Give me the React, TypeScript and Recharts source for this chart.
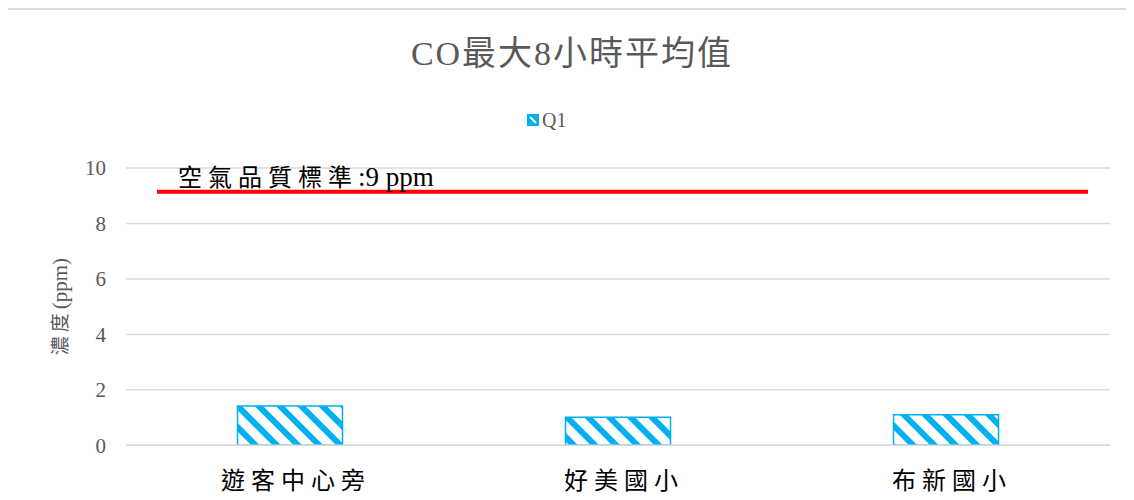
import React from 'react';
import { BarChart, Bar, XAxis, YAxis, CartesianGrid, ReferenceLine } from 'recharts';

const categories = ['遊客中心旁', '好美國小', '布新國小'];
const q1Values = [1.42, 1.01, 1.1];
const yTicks = [0, 2, 4, 6, 8, 10];
const seriesName = 'Q1';
const titleText = 'CO最大8小時平均值';
const yAxisTitleCjk = '濃度';
const yAxisTitleLatin = '(ppm)';
const standardValue = 9.14;
const standardLabelCjk = '空氣品質標準';
const standardLabelLatin = ':9 ppm';

const data = categories.map((name, i) => ({ name, [seriesName]: q1Values[i] }));

const FONT = "'Liberation Serif', 'Noto Sans CJK TC', serif";
const BLUE = '#00B0F0';
const GRAY = '#595959';

const StandardLine = (props: any) => {
  const { x1, y1, x2, y2 } = props;
  const lx1 = x1 + 31;
  const lx2 = x2 - 22;
  return (
    <g>
      <line x1={lx1} y1={y1} x2={lx2} y2={y2} stroke="#FF0000" strokeWidth={4} />
      <text x={lx1 + 21} y={y1 - 6} fontFamily={FONT} fill="#000">
        <tspan fontSize={24} letterSpacing={6}>{standardLabelCjk}</tspan>
        <tspan fontSize={27}>{standardLabelLatin}</tspan>
      </text>
    </g>
  );
};

const YTitle = (props: any) => {
  const vb = props.viewBox || {};
  const cx = vb.x + vb.width / 2 - 6;
  const cy = vb.y + vb.height / 2;
  return (
    <text
      x={cx}
      y={cy}
      transform={`rotate(-90, ${cx}, ${cy})`}
      textAnchor="middle"
      dominantBaseline="central"
      fontFamily={FONT}
      fill={GRAY}
    >
      <tspan fontSize={19} letterSpacing={4}>{yAxisTitleCjk}</tspan>
      <tspan fontSize={21}>{yAxisTitleLatin}</tspan>
    </text>
  );
};

export default function App() {
  return (
    <div style={{ position: 'relative', width: 1126, height: 492 }}>
      <div
        style={{
          position: 'absolute',
          left: -3,
          top: 0,
          width: 1129,
          height: 492,
          overflow: 'hidden',
        }}
      >
        <div
          style={{
            borderTop: '2px solid #dcdcdc',
            borderLeft: '2px solid #dcdcdc',
            width: 1140,
            height: 500,
            position: 'relative',
          }}
        >
          <BarChart
            width={1127}
            height={490}
            data={data}
            margin={{ top: 158, right: 24, left: 0, bottom: 0 }}
            barCategoryGap="34%"
          >
            <defs>
              <pattern id="diagStripe" patternUnits="userSpaceOnUse" width={15} height={15} patternTransform="rotate(-45)">
                <rect width={15} height={15} fill="#ffffff" />
                <rect width={6} height={15} fill={BLUE} />
              </pattern>
            </defs>
            <CartesianGrid vertical={false} stroke="#d9d9d9" strokeWidth={1.5} />
            <XAxis
              dataKey="name"
              height={54.7}
              tickLine={false}
              tickSize={0}
              tickMargin={27}
              axisLine={{ stroke: '#d9d9d9', strokeWidth: 1.5 }}
              tick={{ fontFamily: FONT, fontSize: 24, fill: '#000', letterSpacing: 6, dx: 6 }}
            />
            <YAxis
              width={119}
              domain={[0, 10]}
              ticks={yTicks}
              axisLine={false}
              tickLine={false}
              tickSize={0}
              tickMargin={20}
              tick={{ fontFamily: FONT, fontSize: 21, fill: GRAY }}
              label={{ content: YTitle }}
            />
            <Bar
              dataKey={seriesName}
              fill="url(#diagStripe)"
              stroke={BLUE}
              strokeWidth={1.5}
              isAnimationActive={false}
            />
            <ReferenceLine y={standardValue} ifOverflow="extendDomain" shape={StandardLine} />
          </BarChart>
          <div
            style={{
              position: 'absolute',
              left: 0,
              top: 27,
              width: 1130,
              textAlign: 'center',
              fontFamily: FONT,
              fontSize: 34,
              lineHeight: '34px',
              letterSpacing: 2,
              color: GRAY,
            }}
          >
            {titleText}
          </div>
          <div
            style={{
              position: 'absolute',
              left: 520,
              top: 100,
              display: 'flex',
              alignItems: 'center',
              fontFamily: FONT,
              fontSize: 20,
              lineHeight: '20px',
              color: GRAY,
            }}
          >
            <svg width={12} height={12} style={{ marginRight: 3 }}>
              <rect width={12} height={12} fill={BLUE} />
              <line x1={3} y1={3} x2={9} y2={9} stroke="#fff" strokeWidth={2} />
            </svg>
            <span>{seriesName}</span>
          </div>
        </div>
      </div>
    </div>
  );
}
